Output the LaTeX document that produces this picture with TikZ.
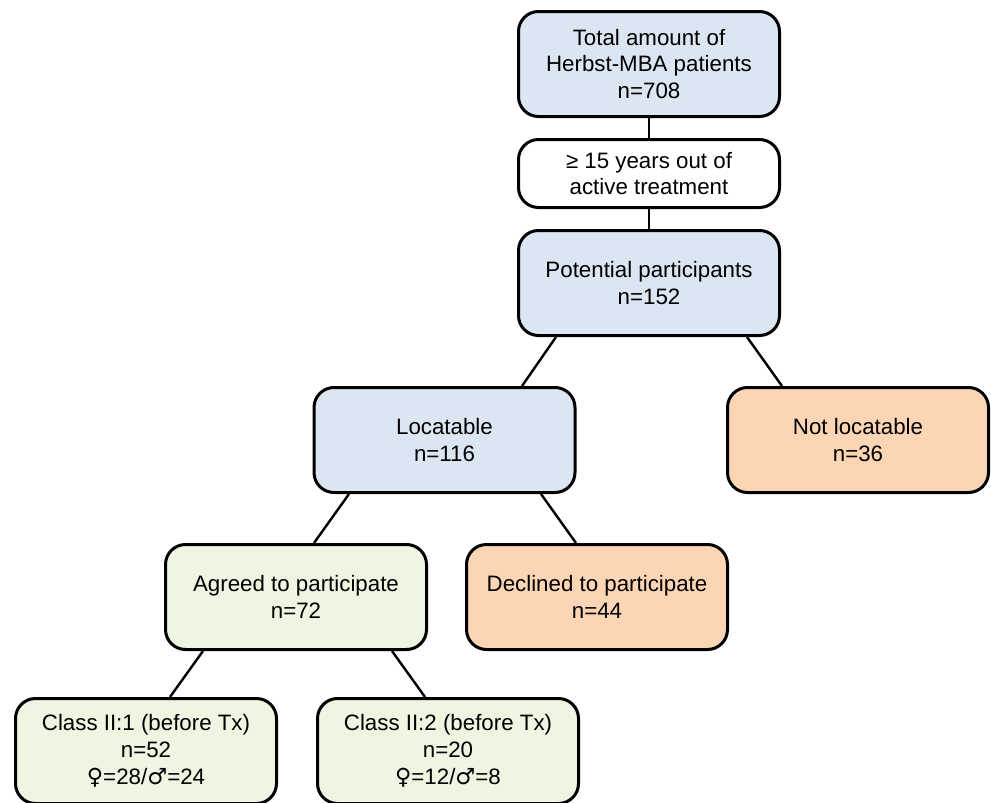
\documentclass[tikz,border=0pt]{standalone}
\usepackage{fontspec}
\setmainfont{Liberation Sans}
\newfontfamily\gendersym{DejaVu Sans}
\usepackage{xcolor}
\usetikzlibrary{positioning}

\definecolor{boxblue}{HTML}{DCE6F2}
\definecolor{boxorange}{HTML}{FCD5B4}
\definecolor{boxgreen}{HTML}{EEF5E0}

\newcommand{\fem}{{\gendersym ♀}}
\newcommand{\mal}{{\gendersym ♂}}

\begin{document}
\begin{tikzpicture}[
    x=1pt, y=1pt,
    box/.style={draw=black, line width=3pt, rounded corners=20pt, minimum width=261pt, minimum height=105pt, align=center, inner sep=2pt, font=\fontsize{22.3}{26.7}\selectfont},
    bluebox/.style={box, fill=boxblue},
    whitebox/.style={box, fill=white, minimum height=68pt},
    orangebox/.style={box, fill=boxorange},
    greenbox/.style={box, fill=boxgreen},
    link/.style={draw=black, line width=2.4pt},
]
\useasboundingbox (0,0) rectangle (991,-803);

% === Top column ===
\node[bluebox] (total) at (649,-64) {Total amount of\\Herbst-MBA patients\\n=708};
\node[whitebox, below=20pt of total] (years) {≥ 15 years out of\\active treatment};
\node[bluebox, below=20pt of years] (pot) {Potential participants\\n=152};

\draw[link] (total) -- (years);
\draw[link] (years) -- (pot);

% === Row 2 ===
\node[bluebox, below=49pt of pot, xshift=-204.5pt] (loc) {Locatable\\n=116};
\node[orangebox, below=49pt of pot, xshift=209pt] (notloc) {Not locatable\\n=36};

\draw[link] ([xshift=-93pt]pot.south) -- ([xshift=77.5pt]loc.north);
\draw[link] ([xshift=98pt]pot.south) -- ([xshift=-76pt]notloc.north);

% === Row 3 ===
\node[greenbox, below=49pt of loc, xshift=-148.5pt] (agreed) {Agreed to participate\\n=72};
\node[orangebox, below=49pt of loc, xshift=152.5pt] (declined) {Declined to participate\\n=44};

\draw[link] ([xshift=-95.5pt]loc.south) -- ([xshift=18pt]agreed.north);
\draw[link] ([xshift=96.5pt]loc.south) -- ([xshift=-21pt]declined.north);

% === Row 4: classes ===
\node[greenbox, below=46pt of agreed, xshift=-150pt] (cls1) {Class II:1 (before Tx)\\n=52\\\fem=28/\mal=24};
\node[greenbox, below=46pt of agreed, xshift=152pt] (cls2) {Class II:2 (before Tx)\\n=20\\\fem=12/\mal=8};

\draw[link] ([xshift=-93pt]agreed.south) -- ([xshift=24pt]cls1.north);
\draw[link] ([xshift=96pt]agreed.south) -- ([xshift=-23pt]cls2.north);

\end{tikzpicture}
\end{document}
